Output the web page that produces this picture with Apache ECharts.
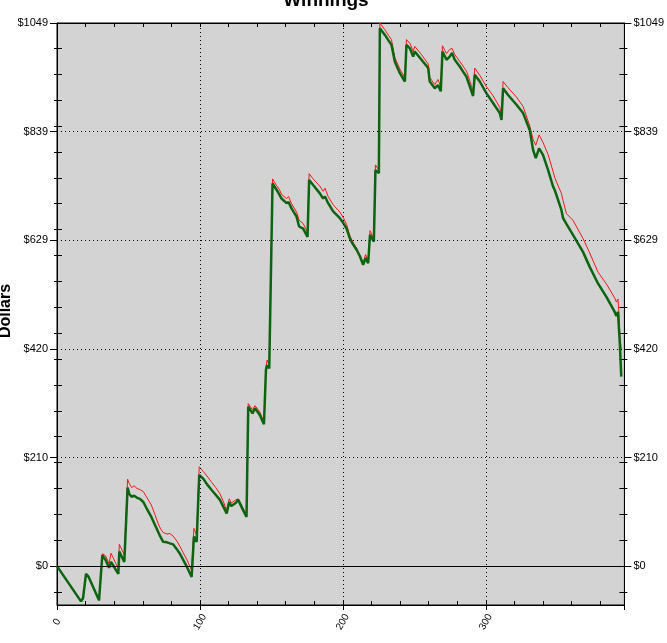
<!DOCTYPE html>
<html>
<head>
<meta charset="utf-8">
<script src="https://cdn.jsdelivr.net/npm/echarts@6.0.0/dist/echarts.min.js"></script>
<style>
html,body{margin:0;padding:0;background:#fff;}
#chart{width:667px;height:643px;}
</style>
</head>
<body>
<div id="chart"></div>
<script>
// Hand index (x) of each vertex
var hands = [0,16.8,18.2,20.3,22,29.4,31.7,34,36.4,37.8,42.9,43.6,47.1,
  49.4,50.5,52.2,54,56,58,60.4,63,66,68.5,70.8,72.5,74.3,77,79,81.3,84,86,88.3,91,94.2,
  95.8,97.7,99.5,102.3,105,108.2,111,114,116.5,118.7,120.5,122,123.3,125,126.8,129.5,132.6,
  133.8,136.8,138.5,141.9,144.8,146.2,147,148.5,150.8,153.6,155.5,157.1,160.6,162,164.1,167.6,169.4,172.2,175.3,
  176.4,179.2,183.9,186.2,187.5,189.7,193.2,197.9,200.5,202.6,204.9,207,209.6,212,214.2,215.9,217.7,219,221.7,222.8,225.2,
  225.9,229.4,232,234,236.4,239.9,243.4,244.5,246.9,249.2,250.3,255,259.7,260.8,264.3,266.6,268.5,269.7,272.5,274.8,276.4,278.3,
  281.8,286.5,290,291.1,292.3,295.8,300.5,305.2,309.8,311,312.1,315.6,321.5,326.1,330.8,333.1,335,337.3,340.1,343.6,347.1,348.3,
  352.9,354.1,356.4,361,368,372.7,378.5,384.4,390.2,391.4,392.5,393,393.8,394.8];
// Green (thick) series values, dollars
var greenVals = [0,-68,-62,-15,-20,-66,21,12,-3,8,-15,28,8,
  152,140,134,136,132,130,124,110,95,80,66,56,47,46,44,42,32,24,12,-2,-21,
  57,47,176,169,158,147,138,128,114,102,124,116,115,122,128,112,95,
  308,295,305,292,274,379,388,382,739,727,718,710,701,703,691,675,656,652,636,
  746,736,720,710,714,701,685,672,662,652,633,622,611,598,582,595,585,640,627,765,759,
  1039,1026,1015,1007,974,952,936,1007,1000,984,994,978,962,936,923,929,917,994,978,984,991,978,
  965,945,917,908,949,936,913,894,875,862,923,910,891,875,842,804,788,807,794,765,733,726,
  688,672,661,640,607,578,546,520,491,483,491,488,430,366];
// Red (thin) series values, dollars
var redVals = [0,-68,-62,-15,-20,-66,24,20,5,25,-5,42,22,
  168,160,152,155,150,148,144,132,118,100,82,72,65,62,63,58,48,38,26,12,-8,
  73,60,192,183,174,162,152,140,124,108,130,122,120,128,130,116,99,
  314,302,310,298,278,385,398,388,748,735,728,718,710,714,700,684,668,662,645,
  758,748,734,724,730,714,698,684,672,660,638,626,614,600,585,602,588,648,632,775,765,
  1049,1036,1025,1017,982,960,943,1017,1010,994,1004,988,970,944,930,940,925,1005,990,998,1000,988,
  975,956,928,915,962,948,926,908,886,870,936,924,906,888,850,824,813,833,818,795,762,750,
  720,706,681,668,633,605,568,545,518,510,516,495,445,417];
// Axis ticks
var xMajor = [0,100,200,300];
var yMajor = [0,209.8,419.6,629.4,839.2,1049];
var yMinor = [-50,0,50,100,150,200,250,300,350,400,450,500,550,600,650,700,750,800,850,900,950,1000];
var yMin = -75, yMax = 1049, xMin = 0, xMax = 397;

var greenData = hands.map(function(x,i){return [x, greenVals[i]];});
var redData = hands.map(function(x,i){return [x, redVals[i]];});

var black = '#000';
var font = 'Arial, "Liberation Sans", sans-serif';
function yAx(pos, opts){
  var o = {type:'value', position:pos, min:yMin, max:yMax, splitLine:{show:false},
    axisLine:{show:false, onZero:false}, axisTick:{show:false}, axisLabel:{show:false}};
  for (var k in opts) o[k]=opts[k];
  return o;
}
function xAx(pos, opts){
  var o = {type:'value', position:pos, min:xMin, max:xMax, splitLine:{show:false},
    axisLine:{show:false, onZero:false}, axisTick:{show:false}, axisLabel:{show:false}};
  for (var k in opts) o[k]=opts[k];
  return o;
}
var majorLabel = {show:true, customValues:yMajor, margin:9, color:black, fontSize:11, fontFamily:font,
  formatter:function(v){return '$'+Math.round(v);}};
var line = {show:true, onZero:false, lineStyle:{color:black,width:1}};
var noLine = {show:false, onZero:false};

var gridLines = [];
yMajor.slice(1,5).forEach(function(v){gridLines.push({yAxis:v});});
xMajor.slice(1).forEach(function(v){gridLines.push({xAxis:v});});
gridLines.push({yAxis:0, lineStyle:{type:'solid', color:black, width:1}});

var chart = echarts.init(document.getElementById('chart'), null, {renderer:'canvas'});
chart.setOption({
  animation:false,
  backgroundColor:'#fff',
  grid:{left:57, right:42, top:23, bottom:38, show:true, backgroundColor:'#d3d3d3', borderColor:black, borderWidth:1},
  xAxis:[
    xAx('bottom',{interval:20, axisLine:line,
      axisTick:{show:true, inside:true, length:4, lineStyle:{color:black}},
      axisLabel:{show:true, rotate:60, margin:17, align:'center', verticalAlign:'middle', color:black, fontSize:10, fontFamily:font,
        formatter:function(v){return xMajor.indexOf(v)>=0 ? String(v) : '';}}}),
    xAx('bottom',{interval:100, axisLine:noLine, axisTick:{show:true, length:5, lineStyle:{color:black}}}),
    xAx('top',{interval:20, axisLine:line,
      axisTick:{show:true, inside:true, length:4, lineStyle:{color:black}}})
  ],
  yAxis:[
    yAx('left',{axisLine:line,
      axisTick:{show:true, customValues:yMajor, length:7, lineStyle:{color:black}}, axisLabel:majorLabel}),
    yAx('left',{axisLine:noLine, axisTick:{show:true, customValues:yMinor, inside:true, length:5, lineStyle:{color:black}}}),
    yAx('left',{axisLine:noLine, axisTick:{show:true, customValues:yMinor, length:3, lineStyle:{color:black}}}),
    yAx('right',{axisLine:line,
      axisTick:{show:true, customValues:yMajor, length:7, lineStyle:{color:black}}, axisLabel:majorLabel}),
    yAx('right',{axisLine:noLine, axisTick:{show:true, customValues:yMinor, inside:true, length:5, lineStyle:{color:black}}}),
    yAx('right',{axisLine:noLine, axisTick:{show:true, customValues:yMinor, length:3, lineStyle:{color:black}}})
  ],
  series:[
    {type:'line', name:'grid', z:1, data:[[0,0]], symbol:'none', silent:true,
      lineStyle:{opacity:0},
      markLine:{silent:true, symbol:['none','none'], label:{show:false},
        lineStyle:{type:[1,3], color:black, width:1}, data:gridLines}},
    {type:'line', name:'red', z:3, data:redData, symbol:'none', silent:true,
      lineStyle:{color:'#f01818', width:1}},
    {type:'line', name:'green', z:4, data:greenData, symbol:'none', silent:true,
      lineStyle:{color:'#0d6410', width:2.5}}
  ],
  graphic:[
    {type:'text', x:326, y:10, style:{text:'Winnings', font:'bold 19px '+font, fill:black, textAlign:'center', textVerticalAlign:'bottom'}},
    {type:'text', x:6, y:311, rotation:Math.PI/2, style:{text:'Dollars', font:'bold 16px '+font, fill:black, textAlign:'center', textVerticalAlign:'middle'}}
  ]
});
</script>
</body>
</html>
